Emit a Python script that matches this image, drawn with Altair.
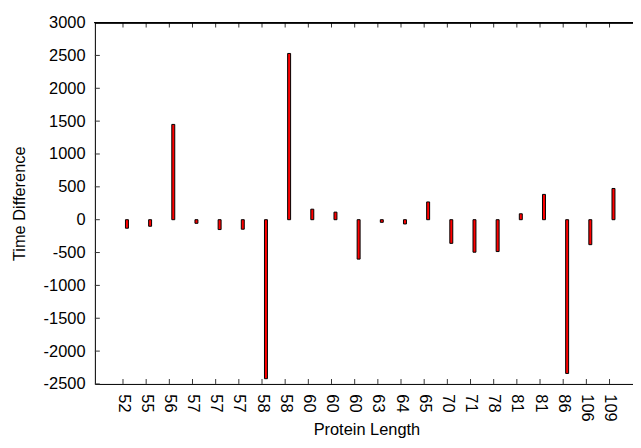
import altair as alt
import pandas as pd

# Data
LABELS = ["52", "55", "56", "57", "57", "57", "58", "58", "60", "60", "60",
          "63", "64", "65", "70", "71", "78", "81", "81", "86", "106", "109"]
VALUES = [-130, -100, 1450, -55, -150, -145, -2420, 2530, 160, 115, -600,
          -40, -65, 270, -360, -495, -485, 90, 385, -2340, -380, 475]
Y_TICKS = [-2500, -2000, -1500, -1000, -500, 0, 500, 1000, 1500, 2000, 2500, 3000]

FONT = "Liberation Sans"
FS = 16.6
W, H = 545, 366

idx = list(range(len(LABELS)))
bars = pd.DataFrame({"i": idx, "label": LABELS, "v": VALUES})
xt = pd.DataFrame({"i": idx})
yt = pd.DataFrame({"y": Y_TICKS})

label_expr = "[" + ",".join("'%s'" % s for s in LABELS) + "][datum.value]"

xscale = alt.Scale(domain=[-1, 21.8], nice=False, zero=False)
yscale = alt.Scale(domain=[-2500, 3000], nice=False)

x_axis = alt.Axis(values=idx, labelExpr=label_expr, ticks=False, tickSize=0,
                  labelAngle=90, labelPadding=10, grid=False, domainColor="black",
                  labelFont=FONT, labelFontSize=FS, labelColor="black",
                  labelOverlap=False, labelFlush=False,
                  title="Protein Length", titleFont=FONT, titleFontSize=FS,
                  titleFontWeight="normal", titleColor="black",
                  titleX=275, titleY=51, titleBaseline="alphabetic", titleAlign="center")
y_axis = alt.Axis(values=Y_TICKS, labelExpr="'' + datum.value", ticks=False, tickSize=0,
                  labelPadding=10, labelOverlap=False, labelFlush=False,
                  grid=False, domainColor="black",
                  labelFont=FONT, labelFontSize=FS, labelColor="black",
                  title="Time Difference", titleFont=FONT, titleFontSize=FS,
                  titleFontWeight="normal", titleColor="black",
                  titleX=-71, titleY=H / 2, titleAngle=-90,
                  titleBaseline="alphabetic", titleAlign="center")

bar_layer = alt.Chart(bars).mark_bar(size=3, fill="#ff0000", stroke="black",
                                     strokeWidth=1, xOffset=4).encode(
    x=alt.X("i:Q", scale=xscale, axis=x_axis),
    y=alt.Y("v:Q", scale=yscale, axis=y_axis),
)

tick_color = "#333333"
xt_bottom = alt.Chart(xt).mark_rule(color=tick_color, strokeWidth=1).encode(
    x=alt.X("i:Q", scale=xscale, axis=x_axis), y=alt.value(H), y2=alt.value(H - 5))
xt_top = alt.Chart(xt).mark_rule(color=tick_color, strokeWidth=1).encode(
    x=alt.X("i:Q", scale=xscale, axis=x_axis), y=alt.value(0), y2=alt.value(5))
yt_left = alt.Chart(yt).mark_rule(color=tick_color, strokeWidth=1).encode(
    y=alt.Y("y:Q", scale=yscale, axis=y_axis), x=alt.value(0), x2=alt.value(5))
top_border = alt.Chart(xt).mark_rule(color="black", strokeWidth=1).encode(
    x=alt.value(0), x2=alt.value(W), y=alt.value(0))

chart = alt.layer(bar_layer, xt_bottom, xt_top, yt_left, top_border).properties(
    width=W, height=H,
    autosize=alt.AutoSizeParams(type="none"),
    padding={"left": 88, "top": 12, "right": 0, "bottom": 54},
).configure_view(stroke=None).configure(background="white")

chart.save("out.html", embed_options={"renderer": "svg", "actions": False})
